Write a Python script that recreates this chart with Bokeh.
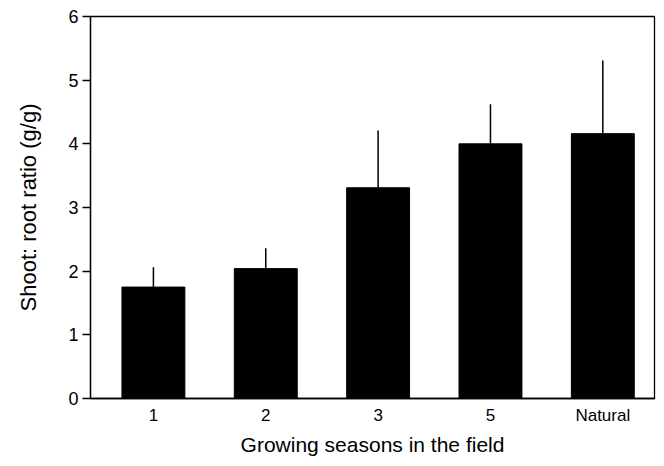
from bokeh.plotting import figure
from bokeh.models import ColumnDataSource, FixedTicker, Range1d
from bokeh.embed import file_html
from bokeh.resources import INLINE

categories = ["1", "2", "3", "5", "Natural"]
positions = [1, 2, 3, 4, 5]
means = [1.75, 2.04, 3.31, 4.00, 4.16]
errors = [0.31, 0.32, 0.90, 0.62, 1.15]
y_ticks = [0, 1, 2, 3, 4, 5, 6]

tops = [m + e for m, e in zip(means, errors)]
src = ColumnDataSource(dict(x=positions, m=means, top=tops))

FONT = "Liberation Sans"

p = figure(width=656, height=458, output_backend="svg", toolbar_location=None,
           x_range=Range1d(0.44, 5.46), y_range=Range1d(0, 6),
           min_border_left=90, min_border_right=2, min_border_top=16,
           min_border_bottom=60)
p.background_fill_color = "white"
p.border_fill_color = "white"
p.outline_line_color = "black"
p.outline_line_width = 1.3
p.xgrid.visible = False
p.ygrid.visible = False

p.vbar(x="x", top="m", bottom=0, width=0.56, source=src,
       fill_color="black", line_color="black")
p.segment(x0="x", y0="m", x1="x", y1="top", source=src,
          line_color="black", line_width=1.5)

# x axis
p.xaxis.ticker = FixedTicker(ticks=positions)
p.xaxis.major_label_overrides = {pos: lab for pos, lab in zip(positions, categories)}
p.xaxis.major_tick_out = 0
p.xaxis.major_tick_in = 0
p.xaxis.minor_tick_out = 0
p.xaxis.minor_tick_in = 0
p.xaxis.axis_line_color = "black"
p.xaxis.axis_line_width = 1.3
p.xaxis.major_label_standoff = 7
p.xaxis.major_label_text_font = FONT
p.xaxis.major_label_text_font_size = "17px"
p.xaxis.major_label_text_color = "black"
p.xaxis.axis_label = "Growing seasons in the field"
p.xaxis.axis_label_text_font = FONT
p.xaxis.axis_label_text_font_size = "21px"
p.xaxis.axis_label_text_font_style = "normal"
p.xaxis.axis_label_text_color = "black"
p.xaxis.axis_label_standoff = 5

# y axis
p.yaxis.ticker = FixedTicker(ticks=y_ticks)
p.yaxis.major_tick_out = 8
p.yaxis.major_tick_in = 0
p.yaxis.minor_tick_out = 0
p.yaxis.minor_tick_in = 0
p.yaxis.major_tick_line_color = "black"
p.yaxis.major_tick_line_width = 1.3
p.yaxis.axis_line_color = "black"
p.yaxis.axis_line_width = 1.3
p.yaxis.major_label_standoff = 4
p.yaxis.major_label_text_font = FONT
p.yaxis.major_label_text_font_size = "18px"
p.yaxis.major_label_text_color = "black"
p.yaxis.axis_label = "Shoot: root ratio (g/g)"
p.yaxis.axis_label_text_font = FONT
p.yaxis.axis_label_text_font_size = "22px"
p.yaxis.axis_label_text_font_style = "normal"
p.yaxis.axis_label_text_color = "black"
p.yaxis.axis_label_standoff = 24

open("out.html", "w").write(file_html(p, INLINE))
